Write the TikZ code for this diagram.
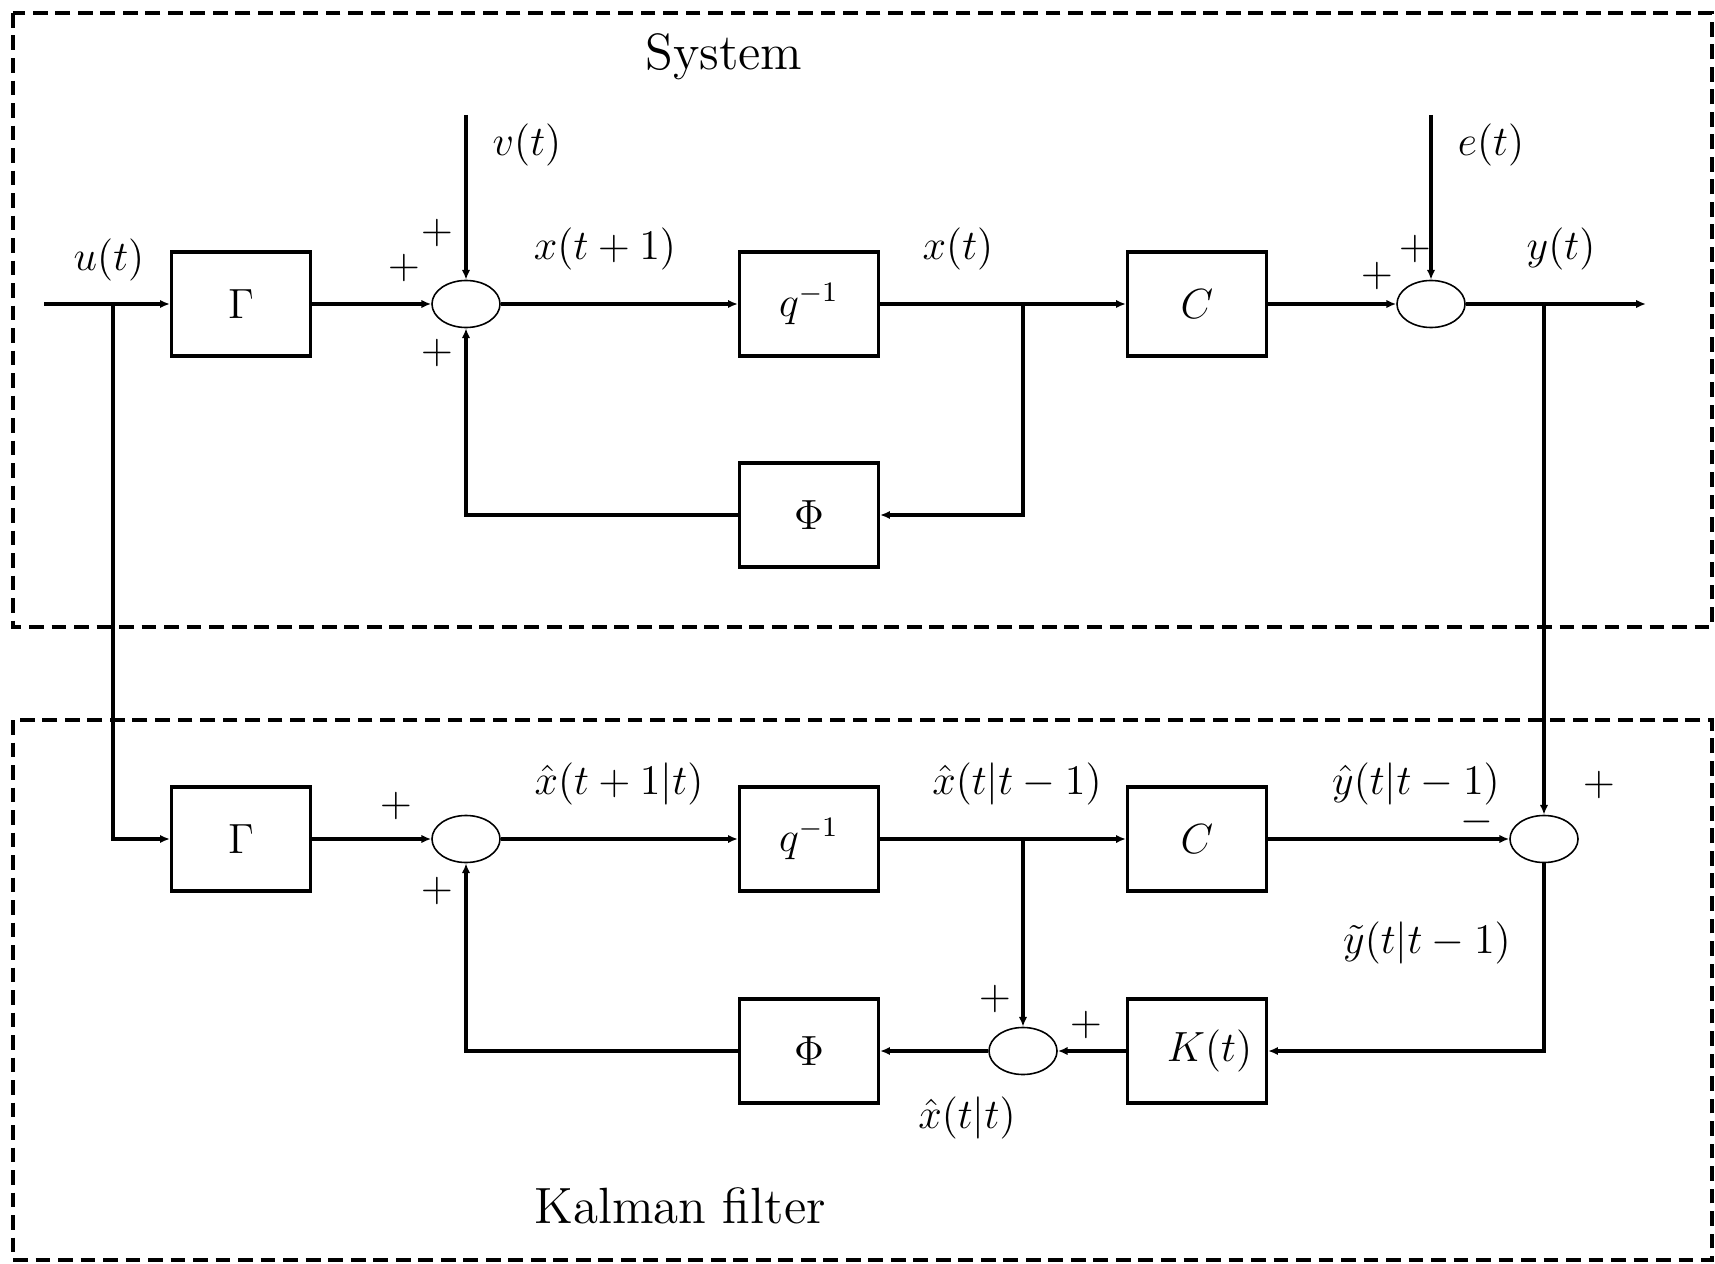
\documentclass[tikz,border=0pt]{standalone}
\usepackage{amsmath}
\usepackage{amssymb}
\usepackage{tikz}
\usetikzlibrary{arrows.meta,shapes.geometric}

\tikzset{
  blk/.style={draw, line width=0.9pt, minimum width=1.39cm, minimum height=1.04cm, inner sep=0pt},
  sumj/.style={draw, ellipse, line width=0.45pt, minimum width=0.68cm, minimum height=0.47cm, inner sep=0pt},
  sig/.style={line width=0.9pt, -{Latex[length=2.8pt,width=2.4pt]}},
  frame/.style={line width=0.9pt, dash pattern=on 4.2pt off 2.2pt},
  lbl/.style={inner sep=0pt}
}

\begin{document}
\begin{tikzpicture}[x=0.01cm, y=-0.01cm, font=\fontsize{11.5}{14}\selectfont]
\useasboundingbox (0,0) rectangle (1715,1264);

% frames
\draw[frame] (13,13) rectangle (1712,627);
\draw[frame] (13,720) rectangle (1712,1260);
\node[lbl] (systitle) at (724,57) {\fontsize{14.5}{17}\selectfont System};
\node[lbl] (kftitle) at (680,1206) {\fontsize{14.5}{17}\selectfont Kalman filter};

% system
\node[blk] (gs) at (241,304) {$\Gamma$};
\node[blk] (qs) at (809,304) {$q^{-1}$};
\node[blk] (cs) at (1197,304) {$C$};
\node[blk] (phis) at (809,515) {$\Phi$};
\node[sumj] (s1) at (466,304) {};
\node[sumj] (s2) at (1431,304) {};
\coordinate (uin) at (44,304);
\coordinate (ubr) at (113,304);
\coordinate (vin) at (466,115);
\coordinate (ein) at (1431,115);
\coordinate (xbr) at (1023,304);
\coordinate (ybr) at (1544,304);
\coordinate (yout) at (1646,304);

\draw[sig] (uin) -- (gs);
\draw[sig] (gs) -- (s1);
\draw[sig] (vin) -- (s1);
\draw[sig] (s1) -- (qs);
\draw[sig] (qs) -- (cs);
\draw[sig] (xbr) |- (phis);
\draw[sig] (phis) -| (s1);
\draw[sig] (cs) -- (s2);
\draw[sig] (ein) -- (s2);
\draw[sig] (s2) -- (yout);

\node[lbl] (lu) at (109,260) {$u(t)$};
\node[lbl] (lv) at (527,145) {$v(t)$};
\node[lbl] (lx1) at (605,249) {$x(t+1)$};
\node[lbl] (lx) at (958,249) {$x(t)$};
\node[lbl] (le) at (1491,145) {$e(t)$};
\node[lbl] (ly) at (1561,249) {$y(t)$};
\node[lbl] (p1) at (437,233) {$+$};
\node[lbl] (p2) at (404,268) {$+$};
\node[lbl] (p3) at (437,353) {$+$};
\node[lbl] (p4) at (1415,249) {$+$};
\node[lbl] (p5) at (1377,276) {$+$};

% Kalman filter
\node[blk] (gk) at (241,839) {$\Gamma$};
\node[blk] (qk) at (809,839) {$q^{-1}$};
\node[blk] (ck) at (1197,839) {$C$};
\node[blk] (phik) at (809,1051) {$\Phi$};
\node[blk] (kk) at (1197,1051) {\hspace{0.25cm}$K(t)$};
\node[sumj] (s3) at (466,839) {};
\node[sumj] (s4) at (1544,839) {};
\node[sumj] (s5) at (1023,1051) {};

\draw[sig] (ubr) |- (gk);
\draw[sig] (gk) -- (s3);
\draw[sig] (s3) -- (qk);
\draw[sig] (qk) -- (ck);
\draw[sig] (qk -| s5) -- (s5);
\draw[sig] (ybr) -- (s4);
\draw[sig] (ck) -- (s4);
\draw[sig] (s4) |- (kk);
\draw[sig] (kk) -- (s5);
\draw[sig] (s5) -- (phik);
\draw[sig] (phik) -| (s3);

\node[lbl] (lxp) at (619,784) {$\hat{x}(t+1|t)$};
\node[lbl] (lxf) at (1017,784) {$\hat{x}(t|t-1)$};
\node[lbl] (lyp) at (1416,784) {$\hat{y}(t|t-1)$};
\node[lbl] (lyt) at (1427,943) {$\tilde{y}(t|t-1)$};
\node[lbl] (lxe) at (967,1118) {$\hat{x}(t|t)$};
\node[lbl] (p6) at (396,806) {$+$};
\node[lbl] (p7) at (437,891) {$+$};
\node[lbl] (p8) at (1599,785) {$+$};
\node[lbl] (m1) at (1477,822) {$-$};
\node[lbl] (p9) at (995,999) {$+$};
\node[lbl] (p10) at (1086,1025) {$+$};
\end{tikzpicture}
\end{document}
